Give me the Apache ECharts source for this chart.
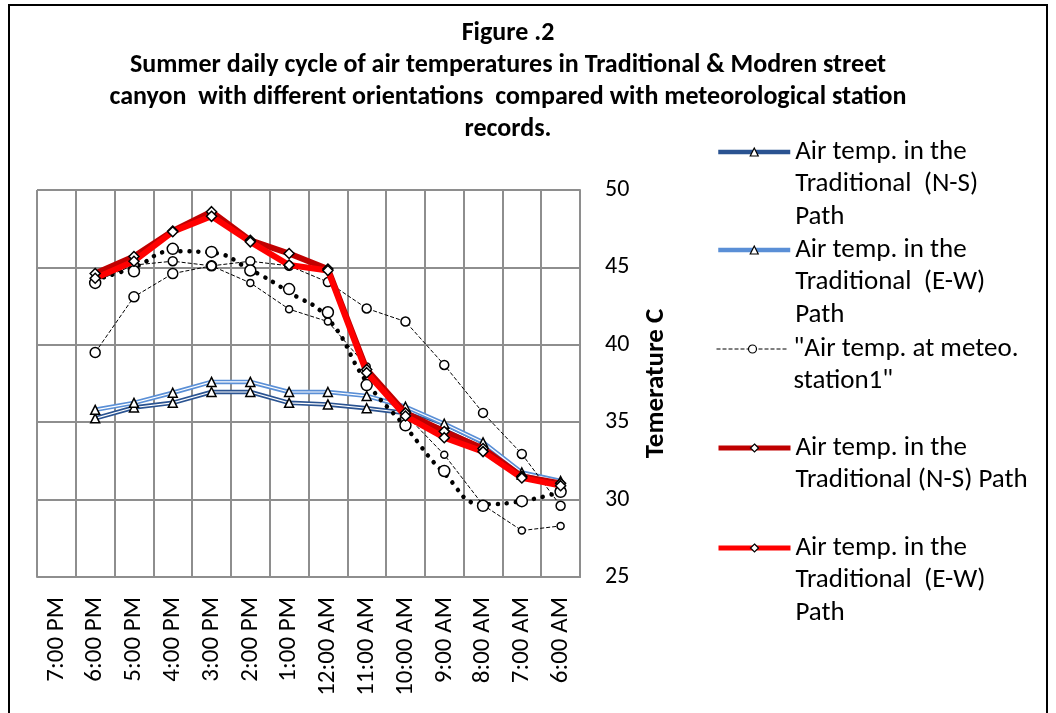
<!DOCTYPE html>
<html>
<head>
<meta charset="utf-8">
<script src="https://cdn.jsdelivr.net/npm/echarts@6/dist/echarts.min.js"></script>
<style>
  html, body { margin: 0; padding: 0; background: #fff; }
  #chart { width: 1056px; height: 713px; }
</style>
</head>
<body>
<div id="chart"></div>
<script>
// hours, read right to left like the original sheet
const categories = ['7:00 PM', '6:00 PM', '5:00 PM', '4:00 PM', '3:00 PM', '2:00 PM', '1:00 PM',
    '12:00 AM', '11:00 AM', '10:00 AM', '9:00 AM', '8:00 AM', '7:00 AM', '6:00 AM']
const yTicks = [25, 30, 35, 40, 45, 50]

const tradNSBlue = [null, 35.25, 35.95, 36.25, 36.95, 36.95, 36.25, 36.15, 35.9, 35.6, 34.7, 33.5, 31.6, 31.0]
const tradEWBlue = [null, 35.8, 36.25, 36.9, 37.6, 37.6, 36.95, 36.95, 36.7, 36.0, 34.9, 33.7, 31.75, 31.2]
const meteoStation1 = [null, 39.5, 43.1, 44.6, 45.1, 44.0, 42.3, 41.5, 38.6, 35.5, 32.9, 29.65, 28.0, 28.3]
const meteoStation2 = [null, 44.1, 45.15, 45.4, 45.1, 45.4, 45.1, 44.05, 42.35, 41.5, 38.7, 35.6, 32.95, 29.6]
const meteoPoints = [null, 44.0, 44.75, 46.2, 46.0, 44.8, 43.6, 42.1, 37.4, 34.8, 31.85, 29.6, 29.9, 30.5]
const meteoTrend = [null, 44.2, 45.0, 46.05, 45.95, 44.85, 43.4, 41.7, 37.6, 34.7, 31.7, 29.7, 29.9, 30.5]
const tradNSRed = [null, 44.6, 45.7, 47.35, 48.6, 46.75, 45.9, 44.9, 38.4, 35.6, 34.4, 33.3, 31.5, 31.05]
const tradEWRed = [null, 44.3, 45.4, 47.3, 48.3, 46.65, 45.15, 44.8, 38.2, 35.4, 34.0, 33.1, 31.4, 30.9]

const names = {
    nsBlue: 'Air temp. in the\nTraditional  (N-S)\nPath',
    ewBlue: 'Air temp. in the\nTraditional  (E-W)\nPath',
    meteo: '"Air temp. at meteo.\nstation1"',
    nsRed: 'Air temp. in the\nTraditional (N-S) Path',
    ewRed: 'Air temp. in the\nTraditional  (E-W)\nPath ',
}
// centre of the first text line of each legend entry
const legendRows = [
    [names.nsBlue, 152, 4.5],
    [names.ewBlue, 250, 4.5],
    [names.meteo, 349, 1],
    [names.nsRed, 448, 5],
    [names.ewRed, 548, 5],
]

const FONT = 'Carlito, Lato, sans-serif'
const LH = 32.5
const gridColor = '#8e8e8e'

const hollow = { color: '#fff', borderColor: '#000', borderWidth: 1.5 }

const doubleLine = (name, data, color) => [
    {
        name, type: 'line', data,
        symbol: 'triangle', symbolSize: 9,
        lineStyle: { color, width: 4.5 },
        itemStyle: hollow,
        z: 2,
    },
    {
        name: name + ' inner', type: 'line', data,
        symbol: 'none', silent: true,
        lineStyle: { color: '#fff', width: 1.2 },
        z: 2,
    },
]

// the icon sits at the middle of the text block, so blank lines on top
// bring the first line level with it
const legends = legendRows.map(([name, centre, width]) => {
    const n = name.split('\n').length
    return {
        orient: 'vertical', left: 716, top: centre - (2 * n - 1) * LH / 2, padding: 0,
        itemWidth: 72, itemHeight: 10,
        formatter: (s) => '\n'.repeat(n - 1) + s.trimEnd(),
        textStyle: { fontFamily: FONT, fontSize: 27, color: '#000', lineHeight: LH },
        lineStyle: { width },
        itemStyle: { borderWidth: 1.2 },
        data: [name],
    }
})

const chart = echarts.init(document.getElementById('chart'))
chart.setOption({
    animation: false,
    textStyle: { fontFamily: FONT },
    title: {
        text: 'Figure .2\nSummer daily cycle of air temperatures in Traditional & Modren street\ncanyon  with different orientations  compared with meteorological station\nrecords.',
        left: 503, top: 12, textAlign: 'center',
        textStyle: { fontFamily: FONT, fontSize: 26, fontWeight: 'bold', color: '#000', lineHeight: 32 },
    },
    legend: legends,
    graphic: [{
        type: 'rect', shape: { x: 9, y: 5, width: 1038, height: 720 },
        style: { fill: 'none', stroke: '#000', lineWidth: 2 }, silent: true,
    }],
    grid: { left: 37, top: 190, width: 543, height: 387 },
    xAxis: {
        type: 'category', data: categories, boundaryGap: true,
        axisLine: { lineStyle: { color: gridColor, width: 2 } },
        axisTick: { show: false },
        splitLine: { show: true, interval: 0, lineStyle: { color: gridColor, width: 2 } },
        axisLabel: { rotate: 90, interval: 0, margin: 20, fontSize: 25, color: '#000', fontFamily: FONT },
    },
    yAxis: {
        type: 'value', position: 'right',
        min: yTicks[0], max: yTicks[yTicks.length - 1], interval: 5,
        name: 'Temerature C', nameLocation: 'middle', nameRotate: 90, nameGap: 63,
        nameTextStyle: { fontFamily: FONT, fontSize: 27, fontWeight: 'bold', color: '#000' },
        axisLine: { show: true, lineStyle: { color: gridColor, width: 2 } },
        axisTick: { show: false },
        splitLine: { lineStyle: { color: gridColor, width: 2 } },
        axisLabel: { margin: 25, fontSize: 24, color: '#000', fontFamily: FONT },
    },
    series: [
        ...doubleLine(names.nsBlue, tradNSBlue, '#2a5391'),
        ...doubleLine(names.ewBlue, tradEWBlue, '#5a8fd6'),
        {
            name: names.meteo, type: 'line', data: meteoStation1,
            symbol: 'circle', symbolSize: (v, p) => (p.dataIndex <= 4 ? 10 : 7),
            lineStyle: { color: '#000', width: 1, type: [4, 2] },
            itemStyle: hollow, z: 3,
        },
        {
            name: 'meteo station 2', type: 'line', data: meteoStation2,
            symbol: 'circle', symbolSize: 9,
            lineStyle: { color: '#000', width: 1, type: [4, 2] },
            itemStyle: hollow, z: 3,
        },
        {
            name: 'meteo points', type: 'line', data: meteoPoints,
            symbol: 'circle', symbolSize: 11,
            lineStyle: { width: 0, opacity: 0 },
            itemStyle: hollow, z: 3,
        },
        {
            name: 'meteo trend', type: 'line', data: meteoTrend, smooth: 0.5,
            symbol: 'none',
            lineStyle: { color: '#000', width: 4.5, type: [0.1, 9], cap: 'round' },
            z: 3,
        },
        {
            name: names.nsRed, type: 'line', data: tradNSRed,
            symbol: 'diamond', symbolSize: 10,
            lineStyle: { color: '#c00000', width: 6 },
            itemStyle: hollow, z: 4,
        },
        {
            name: names.ewRed, type: 'line', data: tradEWRed,
            symbol: 'diamond', symbolSize: 10,
            lineStyle: { color: '#ff0000', width: 6 },
            itemStyle: hollow, z: 4,
        },
    ],
})
</script>
</body>
</html>
